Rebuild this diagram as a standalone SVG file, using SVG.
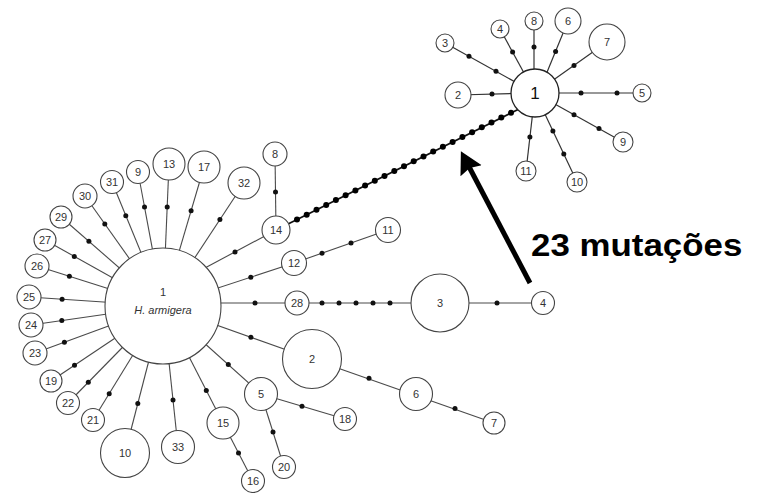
<svg xmlns="http://www.w3.org/2000/svg" width="767" height="493" viewBox="0 0 767 493">
  <defs>
    <style>
      .edge { stroke: #4a4a4a; stroke-width: 1.1; fill: none; }
      .edge-r { stroke: #333; stroke-width: 1.2; fill: none; }
      .edge-long { stroke: #111; stroke-width: 1.8; fill: none; }
      .mut { fill: #111; }
      .mut-long { fill: #000; }
      .node circle { fill: #fff; stroke: #444; stroke-width: 1.1; }
      .node text { font-family: "Liberation Sans", Arial, sans-serif; font-size: 11px; fill: #333; text-anchor: middle; }
      .big text { font-size: 17px; fill: #111; }
      .big circle { stroke: #222; stroke-width: 1.3; }
      .species { font-style: italic; font-size: 10.5px; }
      .callout { font-family: "Liberation Sans", Arial, sans-serif; font-weight: bold; font-size: 32px; fill: #000; }
    </style>
    <marker id="head" markerUnits="userSpaceOnUse" markerWidth="24" markerHeight="26" refX="11" refY="12" orient="auto">
      <path d="M0,0 L22,12 L0,24 L3,12 Z" fill="#000"/>
    </marker>
  </defs>

  <rect width="767" height="493" fill="#fff"/>

  <!-- connectors: branches of the haplotype network and their mutation steps -->
  <g id="connectors">
    <g id="edges-left" class="edge">
      <line x1="163" y1="306" x2="204" y2="167"/>
      <line x1="163" y1="306" x2="169" y2="164"/>
      <line x1="163" y1="306" x2="138" y2="172"/>
      <line x1="163" y1="306" x2="112" y2="182"/>
      <line x1="163" y1="306" x2="85" y2="196"/>
      <line x1="163" y1="306" x2="61" y2="217"/>
      <line x1="163" y1="306" x2="45" y2="240"/>
      <line x1="163" y1="306" x2="37" y2="266"/>
      <line x1="163" y1="306" x2="29" y2="297"/>
      <line x1="163" y1="306" x2="31" y2="325"/>
      <line x1="163" y1="306" x2="35" y2="353"/>
      <line x1="163" y1="306" x2="51" y2="381"/>
      <line x1="163" y1="306" x2="68" y2="403"/>
      <line x1="163" y1="306" x2="93" y2="420"/>
      <line x1="163" y1="306" x2="125" y2="453"/>
      <line x1="163" y1="306" x2="178" y2="447"/>
      <line x1="163" y1="306" x2="223" y2="423"/>
      <line x1="163" y1="306" x2="261" y2="394"/>
      <line x1="163" y1="306" x2="312" y2="359"/>
      <line x1="163" y1="306" x2="294" y2="263"/>
      <line x1="163" y1="306" x2="244" y2="183"/>
      <line x1="203" y1="269" x2="276" y2="230"/>
      <line x1="163" y1="303" x2="543" y2="303"/>
      <line x1="275" y1="154" x2="276" y2="230"/>
      <line x1="294" y1="263" x2="388" y2="230"/>
      <line x1="312" y1="359" x2="494" y2="423"/>
      <line x1="261" y1="394" x2="345" y2="419"/>
      <line x1="261" y1="394" x2="284" y2="467"/>
      <line x1="223" y1="423" x2="253" y2="481"/>
    </g>
    <line id="edge-14-r1" class="edge-long" x1="276" y1="230" x2="520" y2="108.5"/>
    <g id="edges-right" class="edge-r">
      <line x1="535" y1="93" x2="458" y2="95"/>
      <line x1="535" y1="93" x2="445" y2="43"/>
      <line x1="535" y1="93" x2="500" y2="29"/>
      <line x1="534" y1="93" x2="534" y2="21"/>
      <line x1="543" y1="82" x2="568" y2="21"/>
      <line x1="535" y1="93" x2="607" y2="42"/>
      <line x1="535" y1="93" x2="642" y2="93"/>
      <line x1="535" y1="93" x2="623" y2="142"/>
      <line x1="535" y1="93" x2="577" y2="182"/>
      <line x1="535" y1="93" x2="526" y2="171"/>
    </g>
    <g id="mutations" class="mut">
      <!-- spokes of haplotype 1 -->
      <circle cx="191.1" cy="210.7" r="2.5"/>
      <circle cx="167.2" cy="207" r="2.5"/>
      <circle cx="144.5" cy="206.9" r="2.5"/>
      <circle cx="125.8" cy="215.7" r="2.5"/>
      <circle cx="104.8" cy="223.9" r="2.5"/>
      <circle cx="88.9" cy="241.3" r="2.5"/>
      <circle cx="74.3" cy="256.4" r="2.5"/>
      <circle cx="69.4" cy="276.3" r="2.5"/>
      <circle cx="62.1" cy="299.2" r="2.5"/>
      <circle cx="61.8" cy="320.6" r="2.5"/>
      <circle cx="64.4" cy="342.2" r="2.5"/>
      <circle cx="74.5" cy="365.3" r="2.5"/>
      <circle cx="88.3" cy="382.2" r="2.5"/>
      <circle cx="109.2" cy="393.7" r="2.5"/>
      <circle cx="137.8" cy="403.6" r="2.5"/>
      <circle cx="173" cy="399.9" r="2.5"/>
      <circle cx="206.3" cy="390.4" r="2.5"/>
      <circle cx="228.3" cy="364.6" r="2.5"/>
      <circle cx="250.9" cy="337.3" r="2.5"/>
      <circle cx="250.8" cy="277.2" r="2.5"/>
      <circle cx="219.9" cy="219.6" r="2.5"/>
      <circle cx="235" cy="252" r="2.5"/>
      <circle cx="255" cy="303" r="2.5"/>
      <!-- outer branches -->
      <circle cx="275.5" cy="192" r="2.5"/>
      <circle cx="322" cy="253.2" r="2.5"/>
      <circle cx="351" cy="243" r="2.5"/>
      <circle cx="322" cy="303" r="2.5"/>
      <circle cx="339" cy="303" r="2.5"/>
      <circle cx="356" cy="303" r="2.5"/>
      <circle cx="373" cy="303" r="2.5"/>
      <circle cx="390" cy="303" r="2.5"/>
      <circle cx="497" cy="303" r="2.5"/>
      <circle cx="369" cy="378.2" r="2.5"/>
      <circle cx="455" cy="408.5" r="2.5"/>
      <circle cx="302" cy="406.2" r="2.5"/>
      <circle cx="273" cy="432" r="2.5"/>
      <circle cx="238.5" cy="453" r="2.5"/>
      <!-- right group -->
      <circle cx="492" cy="94" r="2.5"/>
      <circle cx="469" cy="56.3" r="2.5"/>
      <circle cx="496" cy="71.3" r="2.5"/>
      <circle cx="512.6" cy="52" r="2.5"/>
      <circle cx="534" cy="47" r="2.5"/>
      <circle cx="555.6" cy="51.5" r="2.5"/>
      <circle cx="574" cy="65.4" r="2.5"/>
      <circle cx="581" cy="93" r="2.5"/>
      <circle cx="617" cy="93" r="2.5"/>
      <circle cx="574" cy="114.7" r="2.5"/>
      <circle cx="599" cy="128.6" r="2.5"/>
      <circle cx="552.9" cy="131" r="2.5"/>
      <circle cx="563.8" cy="154" r="2.5"/>
      <circle cx="529.9" cy="137" r="2.5"/>
    </g>
    <!-- 23 steps between the two groups -->
    <g id="mutations-long" class="mut-long">
      <circle cx="297" cy="219.5" r="3"/>
      <circle cx="306.7" cy="214.7" r="3"/>
      <circle cx="316.5" cy="209.8" r="3"/>
      <circle cx="326.2" cy="205" r="3"/>
      <circle cx="335.9" cy="200.1" r="3"/>
      <circle cx="345.6" cy="195.3" r="3"/>
      <circle cx="355.4" cy="190.4" r="3"/>
      <circle cx="365.1" cy="185.6" r="3"/>
      <circle cx="374.8" cy="180.7" r="3"/>
      <circle cx="384.5" cy="175.9" r="3"/>
      <circle cx="394.3" cy="171" r="3"/>
      <circle cx="404" cy="166.2" r="3"/>
      <circle cx="413.7" cy="161.3" r="3"/>
      <circle cx="423.5" cy="156.4" r="3"/>
      <circle cx="433.2" cy="151.6" r="3"/>
      <circle cx="442.9" cy="146.8" r="3"/>
      <circle cx="452.6" cy="141.9" r="3"/>
      <circle cx="462.4" cy="137" r="3"/>
      <circle cx="472.1" cy="132.2" r="3"/>
      <circle cx="481.8" cy="127.3" r="3"/>
      <circle cx="491.5" cy="122.5" r="3"/>
      <circle cx="501.3" cy="117.6" r="3"/>
      <circle cx="511" cy="112.8" r="3"/>
    </g>
  </g>

  <!-- left network -->
  <g id="ha-1" class="node"><circle cx="163" cy="306" r="58"/><text x="163" y="296">1</text><text class="species" x="163" y="314">H. armigera</text></g>
  <g id="ha-8" class="node"><circle cx="275" cy="154" r="12"/><text x="275" y="158">8</text></g>
  <g id="ha-14" class="node"><circle cx="276" cy="230" r="14"/><text x="276" y="234">14</text></g>
  <g id="ha-32" class="node"><circle cx="244" cy="183" r="16"/><text x="244" y="187">32</text></g>
  <g id="ha-17" class="node"><circle cx="204" cy="167" r="16"/><text x="204" y="171">17</text></g>
  <g id="ha-13" class="node"><circle cx="169" cy="164" r="16"/><text x="169" y="168">13</text></g>
  <g id="ha-9" class="node"><circle cx="138" cy="172" r="11.5"/><text x="138" y="176">9</text></g>
  <g id="ha-31" class="node"><circle cx="112" cy="182" r="11.5"/><text x="112" y="186">31</text></g>
  <g id="ha-30" class="node"><circle cx="85" cy="196" r="12"/><text x="85" y="200">30</text></g>
  <g id="ha-29" class="node"><circle cx="61" cy="217" r="11"/><text x="61" y="221">29</text></g>
  <g id="ha-27" class="node"><circle cx="45" cy="240" r="11"/><text x="45" y="244">27</text></g>
  <g id="ha-26" class="node"><circle cx="37" cy="266" r="12"/><text x="37" y="270">26</text></g>
  <g id="ha-25" class="node"><circle cx="29" cy="297" r="12"/><text x="29" y="301">25</text></g>
  <g id="ha-24" class="node"><circle cx="31" cy="325" r="12"/><text x="31" y="329">24</text></g>
  <g id="ha-23" class="node"><circle cx="35" cy="353" r="12"/><text x="35" y="357">23</text></g>
  <g id="ha-19" class="node"><circle cx="51" cy="381" r="11"/><text x="51" y="385">19</text></g>
  <g id="ha-22" class="node"><circle cx="68" cy="403" r="11.5"/><text x="68" y="407">22</text></g>
  <g id="ha-21" class="node"><circle cx="93" cy="420" r="11.5"/><text x="93" y="424">21</text></g>
  <g id="ha-10" class="node"><circle cx="125" cy="453" r="24.5"/><text x="125" y="457">10</text></g>
  <g id="ha-33" class="node"><circle cx="178" cy="447" r="16.5"/><text x="178" y="451">33</text></g>
  <g id="ha-15" class="node"><circle cx="223" cy="423" r="16"/><text x="223" y="427">15</text></g>
  <g id="ha-16" class="node"><circle cx="253" cy="481" r="11.5"/><text x="253" y="485">16</text></g>
  <g id="ha-5" class="node"><circle cx="261" cy="394" r="16.5"/><text x="261" y="398">5</text></g>
  <g id="ha-20" class="node"><circle cx="284" cy="467" r="11.5"/><text x="284" y="471">20</text></g>
  <g id="ha-18" class="node"><circle cx="345" cy="419" r="11.5"/><text x="345" y="423">18</text></g>
  <g id="ha-12" class="node"><circle cx="294" cy="263" r="12.5"/><text x="294" y="267">12</text></g>
  <g id="ha-11" class="node"><circle cx="388" cy="230" r="12.5"/><text x="388" y="234">11</text></g>
  <g id="ha-28" class="node"><circle cx="297" cy="303" r="12"/><text x="297" y="307">28</text></g>
  <g id="ha-3" class="node"><circle cx="440" cy="303" r="29"/><text x="440" y="307">3</text></g>
  <g id="ha-4" class="node"><circle cx="543" cy="303" r="11.5"/><text x="543" y="307">4</text></g>
  <g id="ha-2" class="node"><circle cx="312" cy="359" r="29.5"/><text x="312" y="363">2</text></g>
  <g id="ha-6" class="node"><circle cx="416" cy="394" r="16.5"/><text x="416" y="398">6</text></g>
  <g id="ha-7" class="node"><circle cx="494" cy="423" r="11"/><text x="494" y="427">7</text></g>

  <!-- right network -->
  <g id="r-1" class="node big"><circle cx="535" cy="93" r="24"/><text x="535" y="99">1</text></g>
  <g id="r-2" class="node"><circle cx="458" cy="95" r="13"/><text x="458" y="99">2</text></g>
  <g id="r-3" class="node"><circle cx="445" cy="43" r="9"/><text x="445" y="47">3</text></g>
  <g id="r-4" class="node"><circle cx="500" cy="29" r="9"/><text x="500" y="33">4</text></g>
  <g id="r-8" class="node"><circle cx="534" cy="21" r="9"/><text x="534" y="25">8</text></g>
  <g id="r-6" class="node"><circle cx="568" cy="21" r="13"/><text x="568" y="25">6</text></g>
  <g id="r-7" class="node"><circle cx="607" cy="42" r="18"/><text x="607" y="46">7</text></g>
  <g id="r-5" class="node"><circle cx="642" cy="93" r="9"/><text x="642" y="97">5</text></g>
  <g id="r-9" class="node"><circle cx="623" cy="142" r="10"/><text x="623" y="146">9</text></g>
  <g id="r-10" class="node"><circle cx="577" cy="182" r="10"/><text x="577" y="186">10</text></g>
  <g id="r-11" class="node"><circle cx="526" cy="171" r="10"/><text x="526" y="175">11</text></g>

  <!-- callout -->
  <g id="callout">
    <line x1="530" y1="283" x2="466" y2="161" stroke="#000" stroke-width="5" marker-end="url(#head)"/>
    <text class="callout" transform="translate(531,256) scale(1.09,1)" x="0" y="0">23 mutações</text>
  </g>
</svg>
